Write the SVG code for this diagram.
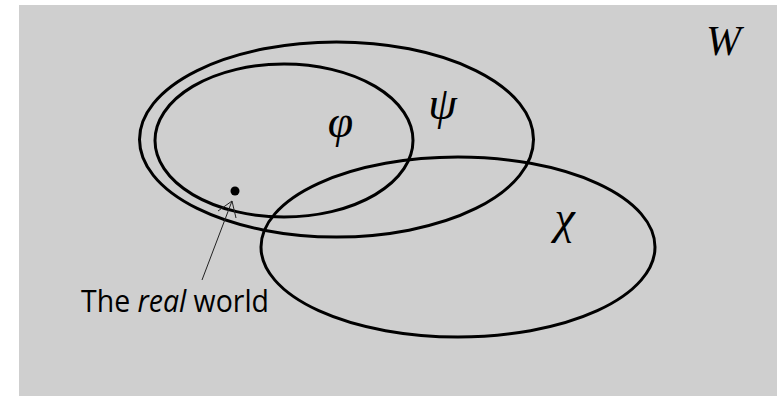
<svg xmlns="http://www.w3.org/2000/svg" width="777" height="396" viewBox="0 0 777 396">
<style>
.set{fill:none;stroke:#000;stroke-width:3}
.greek{font-family:"Liberation Serif","DejaVu Serif",serif;font-style:italic;font-size:46px;fill:#000;text-anchor:middle}
.lbl{font-family:"Open Sans","Noto Sans",sans-serif;font-size:31px;fill:#000}
.ptr{fill:none;stroke:#222;stroke-width:1}
</style>
<rect x="0" y="0" width="777" height="396" fill="#fff"/>
<g id="W">
<rect x="19" y="5" width="758" height="391" fill="#cfcfcf"/>
<text x="706" y="55" style="font-family:'Liberation Serif',serif;font-style:italic;font-size:42px">W</text>
</g>
<g id="psi">
<ellipse class="set" cx="336.5" cy="139.5" rx="197" ry="97.5"/>
<text class="greek" x="442.5" y="119">ψ</text>
</g>
<g id="phi">
<ellipse class="set" cx="284" cy="140.5" rx="129" ry="76.5"/>
<text class="greek" x="340.5" y="137">φ</text>
</g>
<g id="chi">
<ellipse class="set" cx="458" cy="247" rx="197" ry="90"/>
<text class="greek" x="564.5" y="233">χ</text>
</g>
<g id="real-world">
<circle cx="235" cy="191" r="4.5" fill="#000"/>
<text class="lbl" x="81" y="312" textLength="188" lengthAdjust="spacingAndGlyphs">The <tspan font-style="italic">real</tspan> world</text>
</g>
<g id="connectors">
<path class="ptr" d="M202 280 L232 201 M218 211 L232 201 L236 218"/>
</g>
</svg>
